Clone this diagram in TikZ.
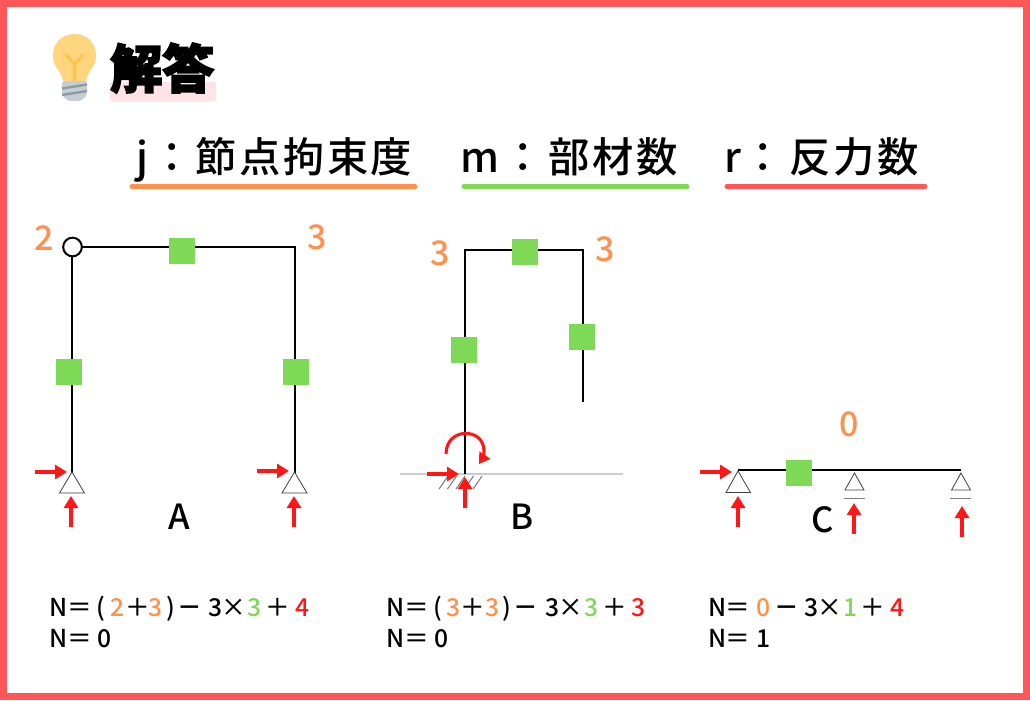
\documentclass[tikz,border=0pt]{standalone}
\usepackage{fontspec}
\usetikzlibrary{arrows.meta}
\newfontfamily\cjkhead[FakeBold=3.5]{Noto Sans CJK JP Black}
\newfontfamily\cjktitle[LetterSpace=6]{Noto Sans CJK JP Medium}
\newfontfamily\cjkminus{Noto Sans CJK JP Bold}
\setmainfont{Noto Sans CJK JP Medium}
\definecolor{frameR}{HTML}{FF5757}
\definecolor{orangeC}{HTML}{FF914D}
\definecolor{greenC}{HTML}{7ED957}
\definecolor{redA}{HTML}{FF1616}
\definecolor{pinkH}{HTML}{FFE3E6}
\definecolor{bulbY}{HTML}{FFD67D}
\definecolor{bulbF}{HTML}{FFC44D}
\definecolor{baseG}{HTML}{C5CED3}
\definecolor{baseD}{HTML}{8F9BA3}
\newcommand{\jo}[1]{\textcolor{orangeC}{#1}}
\newcommand{\jg}[1]{\textcolor{greenC}{#1}}
\newcommand{\jr}[1]{\textcolor{redA}{#1}}
\newcommand{\jm}{{\cjkminus －}}
% glyph placement: centre of each glyph at a given px offset from the node's start
\newdimen\glpos
\newcommand{\glstart}{\global\glpos=0pt\relax}
\newcommand{\gl}[2]{\hskip\dimexpr #1\dimexpr 0.75pt\relax-\glpos\relax\makebox[0pt][c]{#2}\global\glpos=#1\dimexpr 0.75pt\relax}
\newcommand{\glk}[2]{\hskip\dimexpr #1\dimexpr 0.75pt\relax-\glpos\relax #2}
\tikzset{
  member/.style={draw=black,line width=1.5pt},
  memsq/.style={fill=greenC,minimum size=19.5pt,inner sep=0,outer sep=0},
  react/.style={draw=redA,line width=2.5pt,-{Triangle[length=9pt,width=10.5pt]}},
  supp/.style={draw=black!75,line width=0.6pt,fill=white},
  base/.style={draw=black!50,line width=0.8pt},
  nlabel/.style={text=orangeC,font=\fontsize{25.5}{25.5}\selectfont,inner sep=0},
  sname/.style={font=\fontsize{26}{26}\selectfont,inner sep=0},
  formula/.style={anchor=base west,inner sep=0,font=\fontsize{18.5}{18.5}\selectfont},
  titletext/.style={anchor=base west,inner sep=0,font=\fontsize{31}{31}\selectfont\cjktitle},
  uline/.style={line width=3.8pt,line cap=round},
}
\begin{document}
\begin{tikzpicture}[x=0.75pt,y=-0.75pt]
\useasboundingbox (0,0) rectangle (1030,700);
\fill[white] (0,0) rectangle (1030,700);
\draw[frameR,line width=5.2pt] (3.5,3.5) rectangle (1026.5,696.5);
% bulb
\fill[bulbY] (63,81) .. controls (61,70) and (53,68) .. (53,55)
  .. controls (53,43) and (62,34) .. (74.5,34)
  .. controls (87,34) and (96,43) .. (96,55)
  .. controls (96,68) and (88,70) .. (86,81) -- cycle;
\draw[bulbF,line width=2.4pt,line cap=round,line join=round] (66,55) -- (74.5,64) -- (83,55) (74.5,64) -- (74.5,81);
\fill[baseG,rounded corners=2pt] (62,81) -- (87,81) -- (87,95) -- (81,101) -- (68,101) -- (62,95) -- cycle;
\draw[baseD,line width=1.8pt] (62,88.5) -- (87,84.5) (62,95) -- (87,91);
% heading
\fill[pinkH,rounded corners=1.5pt] (110,82) rectangle (216,101.5);
\node[anchor=base west,inner sep=0,font=\fontsize{39}{39}\selectfont\cjkhead] (head) at (110,88) {解答};
% title
\node[titletext] (tj) at (135,172) {\glstart\gl{7}{j}\gl{37}{：}\glk{60.5}{節点拘束度}};
\node[titletext] (tm) at (462,172) {\glstart\gl{18}{m}\gl{61}{：}\glk{86.5}{部材数}};
\node[titletext] (tr) at (725,172) {\glstart\gl{8}{r}\gl{38}{：}\glk{64.5}{反力数}};
\draw[uline,orangeC] (132,186.5) -- (415,186.5);
\draw[uline,greenC] (464,186.5) -- (687,186.5);
\draw[uline,frameR] (727,186.5) -- (925,186.5);

% Frame A
\coordinate (a1) at (72,473);
\coordinate (a2) at (72,247);
\coordinate (a3) at (294.5,247);
\coordinate (a4) at (294.5,473);
\draw[member] (a1) -- (a2) -- (a3) -- (a4);
\node[draw=black,line width=1.5pt,fill=white,circle,minimum size=14pt,inner sep=0] (hinge) at (72.5,247) {};
\node[memsq] (sa1) at (182,251) {};
\node[memsq] (sa2) at (68.5,372) {};
\node[memsq] (sa3) at (295.5,372) {};
\draw[supp] (72,472) -- (84.5,493) -- (59.5,493) -- cycle;
\draw[supp] (294.5,472) -- (307,493) -- (282,493) -- cycle;
\coordinate (ah1s) at (35,472); \coordinate (ah1e) at (67,472);
\coordinate (av1s) at (71,527); \coordinate (av1e) at (71,496);
\coordinate (ah2s) at (257,471); \coordinate (ah2e) at (289,471);
\coordinate (av2s) at (294,527); \coordinate (av2e) at (294,496);
\draw[react] (ah1s) -- (ah1e);
\draw[react] (av1s) -- (av1e);
\draw[react] (ah2s) -- (ah2e);
\draw[react] (av2s) -- (av2e);
\node[nlabel] (la1) at (44,238) {2};
\node[nlabel] (la2) at (317,237) {3};
\node[sname] (na) at (179,517) {A};

% Frame B
\draw[black!20,line width=1.2pt] (400,474) -- (623,474);
\foreach \xx in {448,456.5,465,473.5,482}
  \draw[black!50,line width=0.8pt] (\xx,476) -- (\xx-9,489);
\coordinate (b1) at (465,474);
\coordinate (b2) at (465,249.5);
\coordinate (b3) at (583,249.5);
\coordinate (b4) at (583,402);
\draw[member] (b1) -- (b2) -- (b3) -- (b4);
\node[memsq] (sb1) at (524.5,251.5) {};
\node[memsq] (sb2) at (463.5,350) {};
\node[memsq] (sb3) at (582,337) {};
\coordinate (bms) at (446,454);
\coordinate (bme) at (479,464);
\draw[draw=redA,line width=2.3pt,-{Triangle[length=8pt,width=9.5pt]}] (bms) .. controls (446,427) and (484,427) .. (484,451) .. controls (484,455) and (483,458) .. (bme);
\coordinate (bhs) at (427,474); \coordinate (bhe) at (459,474);
\coordinate (bvs) at (465,508); \coordinate (bve) at (465,477);
\draw[react] (bhs) -- (bhe);
\draw[react] (bvs) -- (bve);
\node[nlabel] (lb1) at (440,253) {3};
\node[nlabel] (lb2) at (605,249) {3};
\node[sname] (nb) at (522,517) {B};

% Beam C
\coordinate (c1) at (738,470);
\coordinate (c2) at (961,470);
\draw[member] (c1) -- (c2);
\node[memsq] (sc1) at (799,473) {};
\draw[supp] (738,471) -- (750.5,492.5) -- (726,492.5) -- cycle;
\draw[supp] (854.5,473) -- (864,490) -- (845,490) -- cycle;
\draw[base] (844,498.5) -- (865,498.5);
\draw[supp] (961,473) -- (970.5,490) -- (951.5,490) -- cycle;
\draw[base] (950,498.5) -- (971,498.5);
\coordinate (chs) at (700,472); \coordinate (che) at (732,472);
\coordinate (cv1s) at (738,527); \coordinate (cv1e) at (738,496);
\coordinate (cv2s) at (854,534); \coordinate (cv2e) at (854,503);
\coordinate (cv3s) at (962,537); \coordinate (cv3e) at (962,506);
\draw[react] (chs) -- (che);
\draw[react] (cv1s) -- (cv1e);
\draw[react] (cv2s) -- (cv2e);
\draw[react] (cv3s) -- (cv3e);
\node[nlabel] (lc) at (849,424) {0};
\node[sname] (nc) at (823,520) {C};

% formulas
\node[formula] (fa1) at (0,616) {\glstart\gl{58}{N}\gl{80}{＝}\gl{101}{(}\gl{117}{\jo{2}}\gl{138}{＋}\gl{155}{\jo{3}}\gl{171}{)}\gl{190}{\jm}\gl{215}{3}\gl{234}{×}\gl{254}{\jg{3}}\gl{278}{＋}\gl{302}{\jr{4}}};
\node[formula] (fa2) at (0,647) {\glstart\gl{58}{N}\gl{80}{＝}\gl{104}{0}};
\node[formula] (fb1) at (0,616) {\glstart\gl{395}{N}\gl{417}{＝}\gl{438}{(}\gl{453}{\jo{3}}\gl{473}{＋}\gl{492}{\jo{3}}\gl{507}{)}\gl{526}{\jm}\gl{552}{3}\gl{571}{×}\gl{591}{\jg{3}}\gl{615}{＋}\gl{638}{\jr{3}}};
\node[formula] (fb2) at (0,647) {\glstart\gl{395}{N}\gl{417}{＝}\gl{441}{0}};
\node[formula] (fc1) at (0,616) {\glstart\gl{717}{N}\gl{738}{＝}\gl{763}{\jo{0}}\gl{787}{\jm}\gl{811}{3}\gl{830}{×}\gl{850}{\jg{1}}\gl{873}{＋}\gl{897}{\jr{4}}};
\node[formula] (fc2) at (0,647) {\glstart\gl{717}{N}\gl{738}{＝}\gl{763}{1}};
\end{tikzpicture}
\end{document}
